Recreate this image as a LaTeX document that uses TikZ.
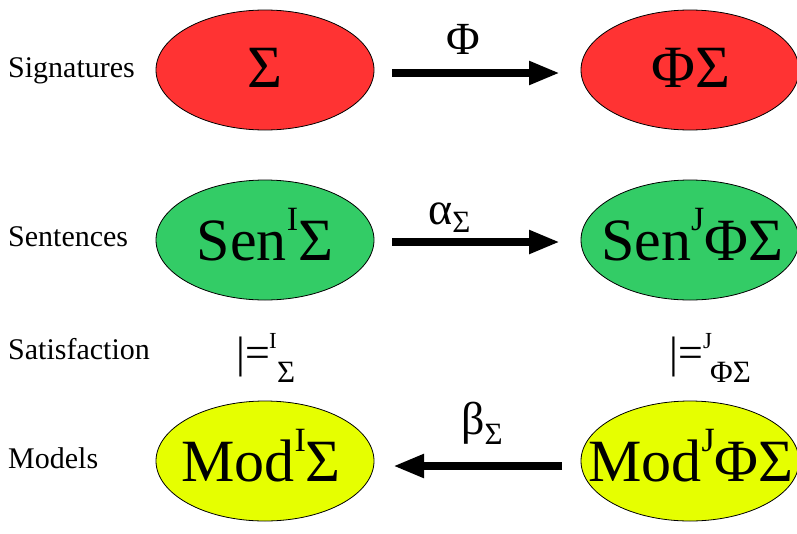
\documentclass[tikz,border=0pt]{standalone}
\usepackage{fontspec}
\setmainfont{Liberation Serif}
\usetikzlibrary{arrows.meta,shapes.geometric}
\definecolor{sigred}{HTML}{FF3333}
\definecolor{sengreen}{HTML}{33CC66}
\definecolor{modyellow}{HTML}{E6FF00}
\newcommand{\supI}[1]{\raisebox{30pt}{\fontsize{34}{34}\selectfont #1}}
\newcommand{\lowsub}[2]{\raisebox{#1}{\fontsize{31}{31}\selectfont #2}}
\tikzset{
  blob/.style={ellipse, draw=black, line width=0.8pt, minimum width=218pt, minimum height=120pt, inner sep=0pt},
  bigtxt/.style={font=\fontsize{60}{60}\selectfont, inner sep=0pt, anchor=base},
  rowlabel/.style={anchor=base west, font=\fontsize{30}{30}\selectfont, inner sep=0pt},
  maparrow/.style={line width=8pt, -{Triangle[length=31pt,width=22pt]}},
  maplabel/.style={font=\fontsize{46}{46}\selectfont, inner sep=0pt, anchor=base west},
  satlabel/.style={font=\fontsize{44}{44}\selectfont, inner sep=0pt, anchor=base west},
  smalllabel/.style={font=\fontsize{23}{23}\selectfont, inner sep=0pt, anchor=base west},
  sublabel/.style={font=\fontsize{31}{31}\selectfont, inner sep=0pt, anchor=base west},
}
\begin{document}
\begin{tikzpicture}[x=1pt,y=-1pt]
\useasboundingbox (0,0) rectangle (797,533);
\clip (0,0) rectangle (797,533);
% ellipses
\node[blob, fill=sigred] (sig) at (265,70) {};
\node[blob, fill=sigred] (phisig) at (690,70) {};
\node[blob, fill=sengreen] (sen) at (265,240) {};
\node[blob, fill=sengreen] (senj) at (690,240) {};
\node[blob, fill=modyellow] (mod) at (265,461) {};
\node[blob, fill=modyellow] (modj) at (690,461) {};
% ellipse texts
\node[bigtxt] (tsig) at (265,87) {Σ};
\node[bigtxt] (tphisig) at (691,87) {ΦΣ};
\node[bigtxt] (tsen) at (265,260) {Sen\supI{I}Σ};
\node[bigtxt] (tsenj) at (692,260) {Sen\supI{J}ΦΣ};
\node[bigtxt] (tmod) at (261,481) {Mod\supI{I}Σ};
\node[bigtxt] (tmodj) at (691,481) {Mod\supI{J}ΦΣ};
% row labels
\node[rowlabel] (l1) at (8,77) {Signatures};
\node[rowlabel] (l2) at (8,246) {Sentences};
\node[rowlabel] (l3) at (8,359) {Satisfaction};
\node[rowlabel] (l4) at (8,468) {Models};
% arrows
\coordinate (a1s) at (392,73);
\coordinate (a1e) at (560,73);
\draw[maparrow] (a1s) -- (a1e);
\coordinate (a2s) at (392,242);
\coordinate (a2e) at (560,242);
\draw[maparrow] (a2s) -- (a2e);
\coordinate (a3s) at (562,466);
\coordinate (a3e) at (393,466);
\draw[maparrow] (a3s) -- (a3e);
% arrow labels
\node[maplabel] (phi) at (446,54) {Φ};
\node[maplabel] (alpha) at (428,224) {α\lowsub{-8pt}{Σ}};
\node[maplabel] (beta) at (461,434) {β\lowsub{-10pt}{Σ}};
% satisfaction
\node[satlabel] (satI) at (236,367) {|=};
\node[smalllabel] (satIsup) at (269,348) {I};
\node[sublabel] (satIsub) at (277,382) {Σ};
\node[satlabel] (satJ) at (669,367) {|=};
\node[smalllabel] (satJsup) at (703,348) {J};
\node[sublabel] (satJsub) at (710,382) {ΦΣ};
\end{tikzpicture}
\end{document}
